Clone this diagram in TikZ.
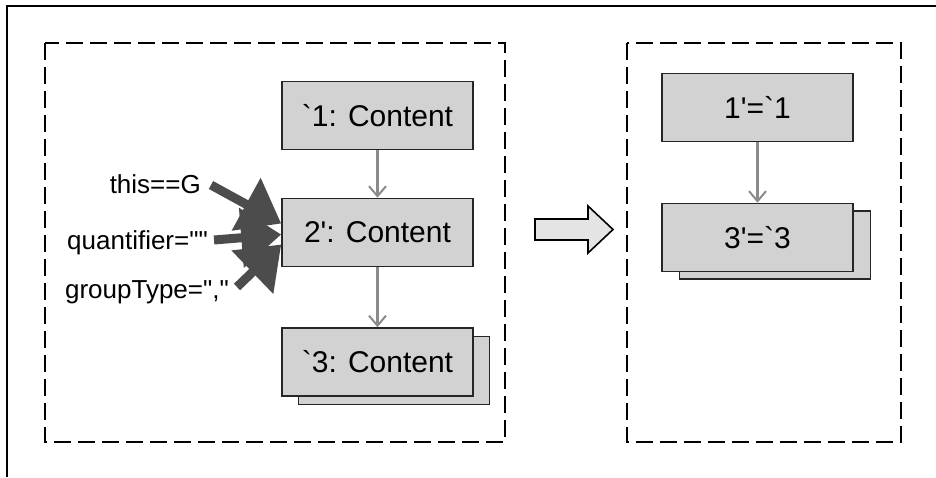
\documentclass[tikz,border=0pt]{standalone}
\usepackage{fontspec}
\newfontfamily\lab{Liberation Sans}[Ligatures=TeXOff]
\usetikzlibrary{arrows.meta,calc}
\definecolor{boxgray}{HTML}{D2D2D2}
\definecolor{linkgray}{HTML}{8A8A8A}
\definecolor{bindgray}{HTML}{4C4C4C}
\definecolor{hollowgray}{HTML}{E4E4E4}
\tikzset{
  cbox/.style={draw=black!85, fill=boxgray, line width=1.6pt,
    minimum width=191pt, minimum height=68pt, inner sep=0pt,
    font=\lab\fontsize{30}{36}\selectfont},
  regionbox/.style={draw=black, line width=2pt, dash pattern=on 17pt off 7pt},
  flowlink/.style={draw=linkgray, line width=2.5pt,
    -{Straight Barb[length=10pt,width=17pt,line width=2pt]}},
  bindlink/.style={draw=bindgray, line width=9pt,
    -{Triangle[length=40pt,width=58pt]}},
  attr/.style={font=\lab\fontsize{26}{30}\selectfont, inner sep=0pt, anchor=base east}
}
\begin{document}
\begin{tikzpicture}[x=1pt,y=-1pt]
\useasboundingbox (0,0) rectangle (936,477);
% frame
\draw[line width=2pt] (7,477) -- (7,6) -- (936,6);
% pattern region and replacement region
\draw[regionbox] (45,43) rectangle (505,442);
\draw[regionbox] (627,43) rectangle (901,442);

% pattern nodes
\node[cbox] (b1) at (377.5,115.5) {`1: Content};
\node[cbox] (b2) at (377.5,232.5) {2': Content};
\node[cbox] (b3s) at (394,370.5) {};
\node[cbox] (b3) at (377.5,362) {`3: Content};
\draw[flowlink] (b1) -- (b2);
\draw[flowlink] (b2) -- (b3);

% attribute conditions
\node[attr] (a1) at (201,193) {this==G};
\node[attr] (a2) at (208,249) {quantifier=""};
\node[attr] (a3) at (229,298) {groupType=","};
\coordinate (a1e) at (211,185);
\coordinate (a2e) at (214,240);
\coordinate (a3e) at (237,287);
\draw[bindlink] (a1e) -- ($(b2.west)+(0,-9)$);
\draw[bindlink] (a2e) -- ($(b2.west)+(0,2)$);
\draw[bindlink] (a3e) -- ($(b2.west)+(0,12)$);

% transformation arrow
\draw[fill=hollowgray, line width=1.6pt, line join=miter]
  (535,219) -- (588,219) -- (588,206) -- (613,229.5) -- (588,253)
  -- (588,240) -- (535,240) -- cycle;

% replacement nodes
\node[cbox] (r1) at (757.5,107.5) {1'=`1};
\node[cbox] (r3s) at (775,245) {};
\node[cbox] (r3) at (757.5,237.5) {3'=`3};
\draw[flowlink] (r1) -- (r3);
\end{tikzpicture}
\end{document}
